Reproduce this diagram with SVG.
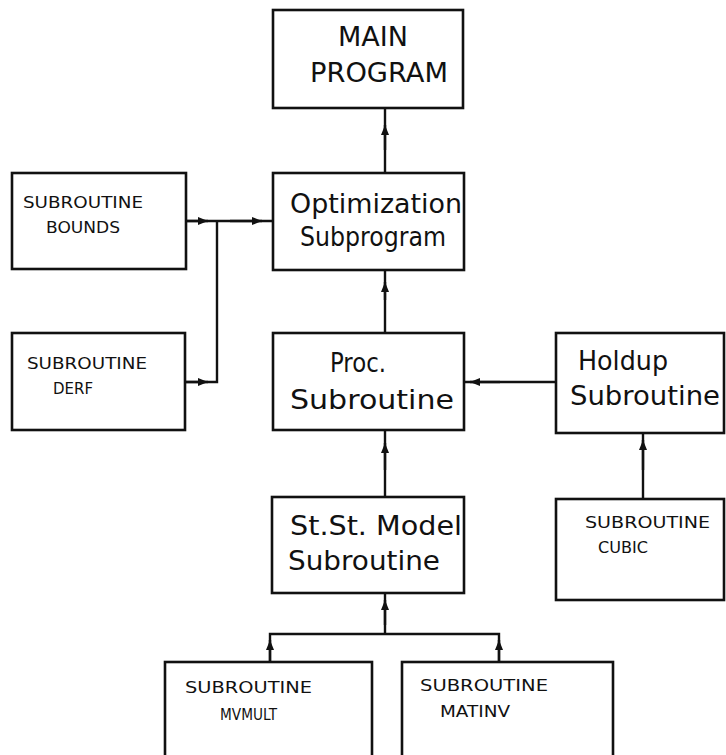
<svg xmlns="http://www.w3.org/2000/svg" width="726" height="755" viewBox="0 0 726 755">
<style>
.box{fill:#fff;stroke:#111;stroke-width:2.6}
.ln{fill:none;stroke:#111;stroke-width:2.4}
.big{font-family:"DejaVu Sans",sans-serif;font-size:26px;fill:#111}
.sm{font-family:"DejaVu Sans",sans-serif;font-size:16.5px;fill:#111}
</style>
<defs>
<marker id="ah" viewBox="0 0 10 8" refX="10" refY="4" markerWidth="10" markerHeight="8" markerUnits="userSpaceOnUse" orient="auto">
<path d="M0,0 L10,4 L0,8 Z" fill="#111"/>
</marker>
</defs>
<rect width="726" height="755" fill="#fff"/>
<g id="connectors">
<path class="ln" d="M385,173 V108"/>
<path class="ln" d="M385,150 V125" marker-end="url(#ah)"/>
<path class="ln" d="M385,333 V270"/>
<path class="ln" d="M385,300 V282" marker-end="url(#ah)"/>
<path class="ln" d="M385,497 V430"/>
<path class="ln" d="M385,470 V443" marker-end="url(#ah)"/>
<path class="ln" d="M186,221 H273"/>
<path class="ln" d="M186,221 H208" marker-end="url(#ah)"/>
<path class="ln" d="M230,221 H262" marker-end="url(#ah)"/>
<path class="ln" d="M217,221 V382 H185"/>
<path class="ln" d="M185,382 H208" marker-end="url(#ah)"/>
<path class="ln" d="M556,382 H464"/>
<path class="ln" d="M500,382 H470" marker-end="url(#ah)"/>
<path class="ln" d="M643,499 V433"/>
<path class="ln" d="M643,470 V440" marker-end="url(#ah)"/>
<path class="ln" d="M385,634 V593"/>
<path class="ln" d="M385,625 V600" marker-end="url(#ah)"/>
<path class="ln" d="M270,662 V634 H499 V662"/>
<path class="ln" d="M270,662 V640" marker-end="url(#ah)"/>
<path class="ln" d="M499,662 V640" marker-end="url(#ah)"/>
</g>
<g id="main">
<rect class="box" x="273" y="10" width="190" height="98"/>
<text class="big" x="338" y="46" textLength="70" lengthAdjust="spacingAndGlyphs">MAIN</text>
<text class="big" x="310" y="82" textLength="138" lengthAdjust="spacingAndGlyphs">PROGRAM</text>
</g>
<g id="optimization">
<rect class="box" x="273" y="173" width="191" height="97"/>
<text class="big" x="290" y="213" textLength="172" lengthAdjust="spacingAndGlyphs">Optimization</text>
<text class="big" x="300" y="246" textLength="146" lengthAdjust="spacingAndGlyphs">Subprogram</text>
</g>
<g id="bounds">
<rect class="box" x="12" y="173" width="174" height="96"/>
<text class="sm" x="23" y="208" textLength="120" lengthAdjust="spacingAndGlyphs">SUBROUTINE</text>
<text class="sm" x="46" y="233" textLength="74" lengthAdjust="spacingAndGlyphs">BOUNDS</text>
</g>
<g id="derf">
<rect class="box" x="12" y="333" width="173" height="97"/>
<text class="sm" x="27" y="369" textLength="120" lengthAdjust="spacingAndGlyphs">SUBROUTINE</text>
<text class="sm" x="53" y="394" textLength="40" lengthAdjust="spacingAndGlyphs">DERF</text>
</g>
<g id="proc">
<rect class="box" x="273" y="333" width="191" height="97"/>
<text class="big" x="330" y="372" textLength="56" lengthAdjust="spacingAndGlyphs">Proc.</text>
<text class="big" x="290" y="409" textLength="164" lengthAdjust="spacingAndGlyphs">Subroutine</text>
</g>
<g id="holdup">
<rect class="box" x="556" y="333" width="168" height="100"/>
<text class="big" x="578" y="370" textLength="90" lengthAdjust="spacingAndGlyphs">Holdup</text>
<text class="big" x="570" y="405" textLength="150" lengthAdjust="spacingAndGlyphs">Subroutine</text>
</g>
<g id="cubic">
<rect class="box" x="556" y="499" width="168" height="101"/>
<text class="sm" x="585" y="528" textLength="125" lengthAdjust="spacingAndGlyphs">SUBROUTINE</text>
<text class="sm" x="598" y="553" textLength="50" lengthAdjust="spacingAndGlyphs">CUBIC</text>
</g>
<g id="ststmodel">
<rect class="box" x="272" y="497" width="192" height="96"/>
<text class="big" x="290" y="535" textLength="172" lengthAdjust="spacingAndGlyphs">St.St. Model</text>
<text class="big" x="288" y="570" textLength="152" lengthAdjust="spacingAndGlyphs">Subroutine</text>
</g>
<g id="mvmult">
<rect class="box" x="165" y="662" width="207" height="100"/>
<text class="sm" x="185" y="693" textLength="127" lengthAdjust="spacingAndGlyphs">SUBROUTINE</text>
<text class="sm" x="220" y="720" textLength="57" lengthAdjust="spacingAndGlyphs">MVMULT</text>
</g>
<g id="matinv">
<rect class="box" x="402" y="662" width="211" height="100"/>
<text class="sm" x="420" y="691" textLength="128" lengthAdjust="spacingAndGlyphs">SUBROUTINE</text>
<text class="sm" x="440" y="717" textLength="70" lengthAdjust="spacingAndGlyphs">MATINV</text>
</g>
</svg>
